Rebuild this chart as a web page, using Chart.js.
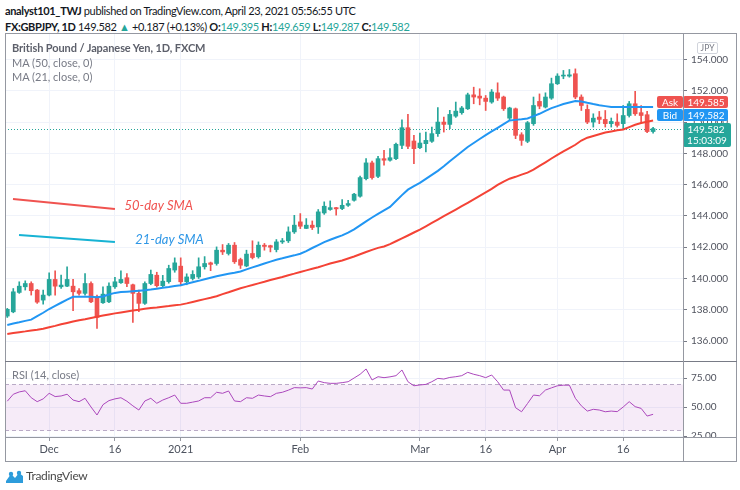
<!DOCTYPE html>
<html>
<head>
<meta charset="utf-8">
<title>GBPJPY 1D</title>
<script src="https://cdn.jsdelivr.net/npm/chart.js@4.4.1/dist/chart.umd.min.js"></script>
<style>
  html, body { margin: 0; padding: 0; background: #fff; }
  body { width: 740px; height: 490px; position: relative; overflow: hidden; font-family: Lato, "Open Sans", sans-serif; color: #131722; }
  .abs { position: absolute; white-space: nowrap; }
  .hdr { left: 5px; font-size: 11px; letter-spacing: -0.35px; }
  .teal { color: #26a69a; }
  .leg { left: 12px; font-size: 11px; color: #787b86; }
  .ln { position: absolute; background: #9598a1; }
  canvas { position: absolute; left: 0; }
</style>
</head>
<body>

<div class="abs hdr" style="top:4px"><b>analyst101_TWJ</b> published on TradingView.com, April 23, 2021 05:56:55 UTC</div>
<div class="abs hdr" style="top:20px"><b>FX:GBPJPY, 1D</b> 149.582 <span class="teal">▲</span> +0.187 (+0.13%) <b>O:</b><span class="teal">149.395</span> <b>H:</b><span class="teal">149.659</span> <b>L:</b><span class="teal">149.287</span> <b>C:</b><span class="teal">149.582</span></div>

<canvas id="priceChart" width="740" height="328" style="top:33px"></canvas>
<canvas id="rsiChart" width="740" height="101" style="top:361px"></canvas>

<div class="abs leg" style="top:41px;color:#5d606b;font-weight:bold;letter-spacing:-0.1px">British Pound / Japanese Yen, 1D, FXCM</div>
<div class="abs leg" style="top:56px">MA (50, close, 0)</div>
<div class="abs leg" style="top:70px">MA (21, close, 0)</div>
<div class="abs leg" style="top:368px">RSI (14, close)</div>
<div class="abs" style="left:697px;top:42px;width:19px;height:10px;border:1px solid #d1d4dc;border-radius:2px;font-size:8.5px;line-height:10px;text-align:center;color:#787b86">JPY</div>

<!-- frame -->
<div class="ln" style="left:5px;top:33px;width:732px;height:1px"></div>
<div class="ln" style="left:5px;top:461px;width:732px;height:1px"></div>
<div class="ln" style="left:5px;top:33px;width:1px;height:429px"></div>
<div class="ln" style="left:736px;top:33px;width:1px;height:429px"></div>
<div class="ln" style="left:5px;top:361px;width:732px;height:1px;background:#787b86"></div>
<div class="ln" style="left:5px;top:437px;width:732px;height:1px"></div>
<div class="ln" style="left:683px;top:33px;width:1px;height:429px"></div>

<div class="abs" style="left:5px;top:468px">
  <svg width="19" height="14" viewBox="0 0 19 14"><path d="M1 11 L6 4 L10 8 L14 3 L18 6 L18 13 L1 13 Z" fill="#2d9cdb"/><circle cx="6" cy="4" r="2.2" fill="#2d9cdb"/><circle cx="14" cy="3" r="2.2" fill="#2d9cdb"/></svg>
</div>
<div class="abs" style="left:26px;top:468px;font-size:12px;color:#4a4a4a;letter-spacing:-0.3px">TradingView</div>

<script>
// daily candles, Nov 20 2020 .. Apr 23 2021
const opens = [
  137.6, 137.87, 139.11, 139.47, 139.68, 139.26, 138.62, 138.94, 139.94, 139.47,
  139.51, 139.51, 139.22, 139.05, 139.68, 138.83, 138.45, 138.51, 139.47, 139.73,
  140.05, 139.6, 139.05, 138.41, 139.68, 140.21, 139.54, 139.8, 140.54, 140.79,
  139.79, 140.0, 140.1, 140.75, 141.0, 140.96, 141.81, 141.6, 142.13, 141.21,
  140.8, 141.6, 141.39, 142.13, 142.1, 141.85, 142.34, 142.41, 142.98, 143.62,
  143.2, 143.41, 143.3, 144.19, 144.41, 144.53, 144.47, 144.68, 145.0, 145.26,
  146.38, 147.39, 146.53, 147.66, 147.56, 147.66, 148.51, 149.64, 148.79, 148.36,
  148.62, 148.77, 149.26, 150.0, 149.85, 150.38, 150.6, 150.85, 151.74, 151.66,
  151.53, 151.28, 151.87, 151.6, 150.25, 150.85, 149.19, 148.77, 149.9, 151.32,
  150.96, 151.53, 152.45, 152.94, 152.94, 153.09, 151.6, 150.81, 150.0, 150.32,
  150.17, 149.9, 150.0, 149.9, 150.42, 151.17, 150.6, 150.47, 149.395
];
const highs = [
  138.09, 139.36, 139.79, 139.85, 139.79, 139.3, 139.26, 140.36, 140.49, 140.22,
  140.75, 139.94, 139.36, 140.32, 139.79, 138.94, 139.47, 139.73, 140.07, 140.49,
  140.32, 139.65, 139.26, 139.79, 140.54, 140.4, 140.2, 140.85, 141.32, 141.32,
  140.3, 140.5, 141.32, 141.4, 141.05, 142.02, 142.17, 142.24, 142.3, 141.3,
  141.81, 142.41, 142.34, 142.24, 142.13, 142.49, 142.56, 143.3, 144.04, 144.15,
  143.83, 143.68, 144.41, 144.9, 144.96, 144.55, 145.04, 145.0, 145.45, 146.55,
  147.66, 147.5, 147.81, 148.19, 148.3, 148.65, 150.15, 150.49, 149.15, 149.3,
  149.36, 149.68, 150.92, 150.32, 150.75, 151.28, 151.0, 151.85, 152.23, 152.13,
  151.7, 152.08, 152.51, 151.66, 150.95, 150.9, 149.32, 150.04, 151.6, 151.8,
  151.87, 152.81, 153.09, 153.3, 153.36, 153.4, 151.74, 151.1, 150.53, 150.68,
  150.74, 150.26, 150.53, 151.06, 151.32, 151.96, 151.06, 150.68, 149.659
];
const lows = [
  137.51, 137.81, 139.05, 139.26, 138.94, 138.41, 138.36, 138.88, 138.94, 139.36,
  139.47, 137.94, 138.94, 138.94, 138.45, 136.81, 138.41, 138.45, 139.36, 139.68,
  139.47, 137.2, 137.88, 138.35, 139.6, 139.45, 139.45, 139.7, 140.4, 139.53,
  139.6, 139.9, 140.0, 140.6, 140.5, 140.85, 141.53, 141.5, 140.96, 140.64,
  140.75, 141.25, 141.3, 141.81, 141.7, 141.7, 142.24, 142.3, 142.88, 143.19,
  143.19, 143.13, 142.88, 144.1, 144.36, 144.05, 144.4, 144.6, 144.95, 145.2,
  146.3, 146.35, 146.45, 147.24, 147.5, 147.6, 148.3, 148.3, 147.34, 148.3,
  148.09, 148.7, 149.09, 149.36, 149.58, 150.3, 150.5, 150.8, 151.17, 151.1,
  150.74, 151.2, 151.38, 150.74, 150.1, 148.94, 148.51, 148.68, 149.79, 150.85,
  150.9, 151.45, 152.4, 152.77, 152.87, 151.49, 150.74, 149.9, 149.68, 149.9,
  149.68, 149.68, 149.68, 149.57, 150.32, 150.42, 149.9, 149.32, 149.287
];
const closes = [
  138.03, 139.15, 139.51, 139.68, 139.22, 138.49, 138.94, 139.94, 139.51, 139.58,
  139.94, 139.15, 139.05, 139.68, 138.51, 137.51, 139.0, 139.51, 139.79, 139.94,
  139.68, 139.05, 138.41, 139.68, 140.26, 139.54, 139.83, 140.64, 141.0, 139.79,
  140.1, 140.26, 140.75, 140.96, 140.9, 141.81, 141.7, 142.13, 141.07, 140.85,
  141.56, 141.34, 142.13, 142.05, 142.0, 142.34, 142.41, 142.98, 143.41, 143.34,
  143.41, 143.26, 144.26, 144.62, 144.53, 144.45, 144.68, 144.79, 145.39, 146.45,
  147.39, 146.45, 147.66, 147.56, 147.72, 148.58, 149.64, 148.45, 148.3, 148.66,
  148.83, 149.26, 150.0, 149.85, 150.49, 150.7, 150.9, 151.74, 151.6, 151.53,
  151.32, 151.92, 151.53, 150.85, 150.9, 149.15, 148.83, 149.96, 151.06, 151.02,
  151.6, 152.45, 152.94, 152.98, 153.02, 151.6, 151.06, 150.0, 150.25, 150.17,
  149.9, 150.04, 149.79, 150.42, 151.17, 150.53, 150.42, 149.395, 149.582
];
// moving averages as plotted
const ma21 = [
  137.03, 137.12, 137.2, 137.29, 137.37, 137.6, 137.81, 138.05, 138.25, 138.45,
  138.65, 138.83, 138.83, 138.83, 138.83, 138.8, 138.85, 138.98, 139.08, 139.13,
  139.16, 139.19, 139.22, 139.25, 139.29, 139.35, 139.41, 139.46, 139.52, 139.57,
  139.66, 139.76, 139.85, 139.95, 140.05, 140.14, 140.22, 140.3, 140.37, 140.45,
  140.58, 140.71, 140.83, 140.96, 141.08, 141.2, 141.29, 141.39, 141.48, 141.58,
  141.75, 141.95, 142.14, 142.33, 142.48, 142.62, 142.76, 142.93, 143.14, 143.4,
  143.65, 143.9, 144.13, 144.36, 144.58, 144.95, 145.33, 145.68, 145.9, 146.11,
  146.37, 146.62, 146.88, 147.17, 147.5, 147.8, 148.1, 148.41, 148.66, 148.92,
  149.16, 149.4, 149.63, 149.87, 150.1, 150.14, 150.18, 150.23, 150.38, 150.53,
  150.72, 150.89, 151.02, 151.15, 151.25, 151.35, 151.32, 151.23, 151.15, 151.08,
  151.02, 150.96, 150.96, 150.96, 150.96, 150.96, 150.96, 150.96, 150.96
];
const ma50 = [
  136.45, 136.51, 136.57, 136.62, 136.68, 136.73, 136.79, 136.88, 136.97, 137.07,
  137.16, 137.25, 137.33, 137.4, 137.48, 137.56, 137.63, 137.7, 137.77, 137.83,
  137.89, 137.95, 138.0, 138.06, 138.11, 138.15, 138.2, 138.24, 138.29, 138.33,
  138.41, 138.5, 138.59, 138.68, 138.77, 138.87, 139.0, 139.12, 139.25, 139.38,
  139.48, 139.58, 139.69, 139.79, 139.9, 140.0, 140.1, 140.21, 140.31, 140.42,
  140.52, 140.62, 140.72, 140.84, 140.96, 141.06, 141.15, 141.28, 141.41, 141.55,
  141.69, 141.83, 141.96, 142.05, 142.2, 142.38, 142.57, 142.75, 142.94, 143.13,
  143.34, 143.55, 143.77, 143.98, 144.19, 144.41, 144.62, 144.84, 145.06, 145.28,
  145.5, 145.73, 145.98, 146.2, 146.38, 146.5, 146.64, 146.77, 146.96, 147.2,
  147.43, 147.67, 147.9, 148.12, 148.33, 148.55, 148.82, 149.0, 149.11, 149.22,
  149.33, 149.4, 149.47, 149.53, 149.68, 149.83, 149.94, 150.02, 150.1
];
const rsi14 = [
  55, 61, 63, 64, 58, 54.6, 57, 61.8, 59, 59.5,
  61, 56, 54.6, 57.5, 50, 43.1, 52, 55.5, 57, 58,
  55, 51, 47.4, 55.2, 57.5, 53.2, 56, 58, 60.3, 53.2,
  53.2, 54.2, 55.2, 58, 58, 62.7, 61.8, 63.8, 55.2, 54.6,
  58, 57.5, 60.3, 59.5, 58.9, 61.8, 62.7, 64.5, 66.7, 66.5,
  66.7, 65.5, 72.4, 71, 70.4, 70.4, 71, 71.8, 75, 78.2,
  82.8, 73.3, 76.1, 75.3, 76, 77, 81.9, 71.8, 68.3, 69,
  69.5, 71.8, 74.7, 74.1, 75.5, 76.1, 77, 79.9, 78.2, 77,
  75.3, 77.6, 71.8, 64.6, 64.6, 49.4, 45.9, 53, 60.3, 59.7,
  64.6, 66.5, 68.3, 68.8, 68.8, 57.5, 51, 46.5, 48, 47.4,
  45.9, 46.5, 46, 50, 54.6, 50.3, 48.8, 42.2, 43.7
];

// axis ticks
const tickIdx = [7, 18, 29, 49, 69, 80, 92, 103];
const tickLabels = ['Dec', '16', '2021', 'Feb', 'Mar', '16', 'Apr', '16'];
const priceTicks = [136, 138, 140, 142, 144, 146, 148, 150, 152, 154];
const rsiTicks = [25, 50, 75];
const rsiBand = [30, 70];

const lastClose = 149.582, askPrice = 149.585, bidPrice = 149.582;
const timer = '15:03:09';

// hand-drawn notes on the chart (bar index, price)
const smaNotes = [
  { text: '50-day SMA', from: [0.95, 145.08], to: [18, 144.44], at: [19.6, 144.62], line: '#f05350', color: '#f05350' },
  { text: '21-day SMA', from: [1.96, 142.78], to: [18, 142.33], at: [21.4, 142.5], line: '#17b3d4', color: '#2d96e6' }
];

const X_MIN = -0.385, X_MAX = 113;
const UP = '#26a69a', DOWN = '#ef5350';
const bars = closes.map((_, i) => i);
const candleColors = closes.map((c, i) => c >= opens[i] ? UP : DOWN);

Chart.defaults.font.family = 'Lato, "Open Sans", sans-serif';

// keep the plot areas exactly where the frame is
const noPad = s => { s.paddingTop = 0; s.paddingBottom = 0; s.paddingLeft = 0; s.paddingRight = 0; };
const fixWidth = s => { s.width = 53; noPad(s); };
const setTimeTicks = s => { s.ticks = tickIdx.map(v => ({ value: v })); };

const priceTagPlugin = {
  id: 'priceTags',
  beforeDatasetsDraw(chart) {
    const { ctx, chartArea: a, scales: { y } } = chart;
    const ly = Math.round(y.getPixelForValue(lastClose)) + 0.5;
    ctx.save();
    ctx.strokeStyle = UP;
    ctx.lineWidth = 1;
    ctx.setLineDash([1, 2]);
    ctx.beginPath();
    ctx.moveTo(a.left, ly);
    ctx.lineTo(a.right, ly);
    ctx.stroke();
    ctx.restore();
  },
  afterDatasetsDraw(chart) {
    const { ctx, scales: { x, y } } = chart;
    ctx.save();
    smaNotes.forEach(n => {
      ctx.strokeStyle = n.line;
      ctx.lineWidth = 2;
      ctx.beginPath();
      ctx.moveTo(x.getPixelForValue(n.from[0]), y.getPixelForValue(n.from[1]));
      ctx.lineTo(x.getPixelForValue(n.to[0]), y.getPixelForValue(n.to[1]));
      ctx.stroke();
      ctx.fillStyle = n.color;
      ctx.font = 'italic 13px Lato, "Open Sans", sans-serif';
      ctx.textBaseline = 'middle';
      ctx.fillText(n.text, x.getPixelForValue(n.at[0]), y.getPixelForValue(n.at[1]));
    });
    ctx.restore();
  },
  afterDraw(chart) {
    const { ctx, chartArea: a, scales: { y } } = chart;
    const ly = Math.round(y.getPixelForValue(lastClose));
    const box = (x0, y0, w, h, col) => {
      ctx.fillStyle = col;
      ctx.beginPath();
      if (ctx.roundRect) ctx.roundRect(x0, y0, w, h, 2); else ctx.rect(x0, y0, w, h);
      ctx.fill();
    };
    ctx.save();
    ctx.font = '10px Lato, "Open Sans", sans-serif';
    ctx.textBaseline = 'middle';
    const tags = [
      { label: 'Ask', value: askPrice, col: DOWN, top: ly - 33 },
      { label: 'Bid', value: bidPrice, col: '#2196f3', top: ly - 20 }
    ];
    tags.forEach(t => {
      box(a.right - 26, t.top, 26, 12, t.col);
      box(a.right, t.top, 45, 12, t.col);
      ctx.fillStyle = '#fff';
      ctx.textAlign = 'center';
      ctx.fillText(t.label, a.right - 13, t.top + 6.5);
      ctx.fillText(t.value.toFixed(3), a.right + 23, t.top + 6.5);
    });
    box(a.right, ly - 6, 48, 24, UP);
    ctx.fillStyle = '#fff';
    ctx.textAlign = 'center';
    ctx.fillText(lastClose.toFixed(3), a.right + 23, ly + 0.5);
    ctx.fillText(timer, a.right + 24, ly + 11.5);
    ctx.restore();
  }
};

new Chart(document.getElementById('priceChart'), {
  type: 'bar',
  data: {
    datasets: [
      { type: 'line', data: bars.map(i => ({ x: i, y: ma21[i] })), borderColor: '#2196f3', borderWidth: 2, pointRadius: 0, order: 0 },
      { type: 'line', data: bars.map(i => ({ x: i, y: ma50[i] })), borderColor: '#f44336', borderWidth: 2, pointRadius: 0, order: 0 },
      { type: 'bar', data: bars.map(i => ({ x: i, y: [Math.min(opens[i], closes[i]), Math.max(opens[i], closes[i])] })),
        backgroundColor: candleColors, barThickness: 4, minBarLength: 1, grouped: false, order: 1 },
      { type: 'bar', data: bars.map(i => ({ x: i, y: [lows[i], highs[i]] })),
        backgroundColor: candleColors, barThickness: 1, grouped: false, order: 2 }
    ]
  },
  options: {
    responsive: false,
    animation: false,
    events: [],
    devicePixelRatio: 1,
    layout: { padding: { left: 5, right: 4, top: 1, bottom: 1 } },
    plugins: { legend: { display: false }, tooltip: { enabled: false } },
    scales: {
      x: {
        type: 'linear', min: X_MIN, max: X_MAX, offset: false,
        afterBuildTicks: setTimeTicks,
        afterFit: s => { s.height = 0; noPad(s); },
        ticks: { display: false },
        grid: { color: '#f0f3fa', drawTicks: false, offset: false },
        border: { display: false }
      },
      y: {
        position: 'right', min: 134.79, max: 155.63,
        afterBuildTicks: s => { s.ticks = priceTicks.map(v => ({ value: v })); },
        afterFit: fixWidth,
        ticks: { color: '#50535e', font: { size: 10 }, padding: 4, callback: v => v.toFixed(3) },
        grid: { color: '#f0f3fa', tickColor: '#787b86', tickLength: 4 },
        border: { display: false }
      }
    }
  },
  plugins: [priceTagPlugin]
});

const rsiPlugin = {
  id: 'rsiBand',
  beforeDatasetsDraw(chart) {
    const { ctx, chartArea: a, scales: { y } } = chart;
    const top = Math.round(y.getPixelForValue(rsiBand[1])) + 0.5;
    const bot = Math.round(y.getPixelForValue(rsiBand[0])) + 0.5;
    ctx.save();
    ctx.fillStyle = 'rgba(171, 71, 188, 0.11)';
    ctx.fillRect(a.left, top, a.right - a.left, bot - top);
    ctx.strokeStyle = '#b9aac6';
    ctx.lineWidth = 1;
    ctx.setLineDash([4, 3]);
    [top, bot].forEach(py => {
      ctx.beginPath();
      ctx.moveTo(a.left, py);
      ctx.lineTo(a.right, py);
      ctx.stroke();
    });
    ctx.restore();
  },
  afterDraw(chart) {
    // lowest level label, cut by the pane edge
    const { ctx, chartArea: a, scales: { y } } = chart;
    ctx.save();
    ctx.beginPath();
    ctx.rect(a.right, 0, 60, a.bottom);
    ctx.clip();
    ctx.fillStyle = '#50535e';
    ctx.font = '10px Lato, "Open Sans", sans-serif';
    ctx.textBaseline = 'middle';
    ctx.fillText(rsiTicks[0].toFixed(2), a.right + 8, y.getPixelForValue(rsiTicks[0]));
    ctx.restore();
  }
};

new Chart(document.getElementById('rsiChart'), {
  type: 'line',
  data: {
    datasets: [
      { data: bars.map(i => ({ x: i, y: rsi14[i] })), borderColor: '#ab47bc', borderWidth: 1, pointRadius: 0 }
    ]
  },
  options: {
    responsive: false,
    animation: false,
    events: [],
    devicePixelRatio: 1,
    layout: { padding: { left: 5, right: 4, top: 0, bottom: 1 } },
    plugins: { legend: { display: false }, tooltip: { enabled: false } },
    scales: {
      x: {
        type: 'linear', min: X_MIN, max: X_MAX,
        afterBuildTicks: setTimeTicks,
        afterFit: s => { s.height = 24; noPad(s); },
        ticks: {
          color: '#4c525e', font: { size: 11 }, padding: 2, maxRotation: 0, autoSkip: false,
          callback: v => { const k = tickIdx.indexOf(v); return k >= 0 ? tickLabels[k] : ''; }
        },
        grid: { color: '#f0f3fa', tickColor: '#9598a1', tickLength: 4 },
        border: { display: false }
      },
      y: {
        position: 'right', min: 24.14, max: 89.66,
        afterBuildTicks: s => { s.ticks = rsiTicks.map(v => ({ value: v })); },
        afterFit: fixWidth,
        ticks: { color: '#50535e', font: { size: 10 }, padding: 4, callback: v => v === rsiTicks[0] ? '' : v.toFixed(2) },
        grid: { color: '#f0f3fa', tickColor: '#787b86', tickLength: 4 },
        border: { display: false }
      }
    }
  },
  plugins: [rsiPlugin]
});
</script>
</body>
</html>
